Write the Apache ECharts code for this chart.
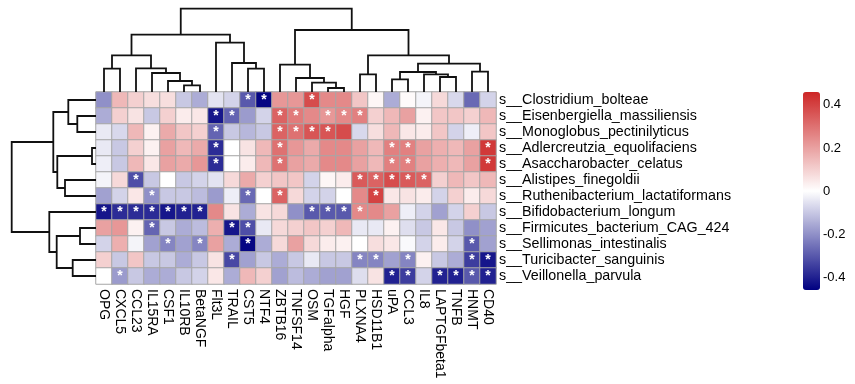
<!DOCTYPE html>
<html>
<head>
<meta charset="utf-8">
<script src="https://cdn.jsdelivr.net/npm/echarts@6/dist/echarts.min.js"></script>
<style>html,body{margin:0;padding:0;background:#fff}#c{width:855px;height:384px}</style>
</head>
<body>
<div id="c"></div>
<script>
// ---------- data ----------
var columns = ['OPG','CXCL5','CCL23','IL15RA','CSF1','IL10RB','BetaNGF','Flt3L','TRAIL','CST5','NTF4','ZBTB16','TNFSF14','OSM','TGFalpha','HGF','PLXNA4','HSD11B1','uPA','CCL3','IL8','LAPTGFbeta1','TNFB','HNMT','CD40'];
var rows = ['s__Clostridium_bolteae','s__Eisenbergiella_massiliensis','s__Monoglobus_pectinilyticus','s__Adlercreutzia_equolifaciens','s__Asaccharobacter_celatus','s__Alistipes_finegoldii','s__Ruthenibacterium_lactatiformans','s__Bifidobacterium_longum','s__Firmicutes_bacterium_CAG_424','s__Sellimonas_intestinalis','s__Turicibacter_sanguinis','s__Veillonella_parvula'];
var values = [
  [-0.2, 0.15, 0.1, 0.07, 0.07, -0.1, -0.15, -0.05, -0.08, -0.3, -0.45, 0.22, 0.22, 0.38, 0.25, 0.25, 0.12, 0.02, -0.15, 0.01, -0.02, 0.08, -0.07, -0.27, -0.08],
  [-0.15, 0.1, 0.06, -0.1, 0.1, 0.04, 0.05, -0.42, -0.28, -0.18, -0.08, 0.33, 0.28, 0.25, 0.22, 0.25, 0.27, 0.1, 0.15, 0.2, 0.03, 0.12, 0.12, 0.1, 0.15],
  [-0.04, -0.07, 0.15, 0.03, 0.18, 0.12, 0.1, -0.28, -0.1, -0.13, -0.1, 0.33, 0.3, 0.36, 0.36, 0.38, -0.07, 0.07, 0.15, 0.05, 0.04, 0.12, -0.08, -0.03, 0.12],
  [-0.04, -0.1, 0.1, 0.03, 0.2, 0.15, 0.18, -0.38, 0.0, 0.06, 0.15, 0.3, 0.22, 0.18, 0.25, 0.25, 0.2, 0.15, 0.27, 0.27, 0.2, 0.17, 0.15, 0.2, 0.42],
  [-0.03, -0.1, 0.15, 0.05, 0.2, 0.18, 0.22, -0.38, 0.0, 0.04, 0.15, 0.3, 0.2, 0.18, 0.25, 0.25, 0.2, 0.15, 0.27, 0.27, 0.2, 0.17, 0.15, 0.2, 0.42],
  [-0.02, 0.08, -0.32, -0.1, 0.0, -0.1, -0.08, -0.05, 0.08, 0.18, 0.1, 0.12, 0.12, -0.08, 0.02, 0.04, 0.35, 0.33, 0.38, 0.35, 0.33, 0.1, 0.15, 0.12, 0.15],
  [-0.17, -0.08, 0.05, -0.2, -0.1, -0.1, -0.12, -0.18, -0.03, -0.27, 0.0, 0.33, 0.08, -0.08, -0.08, 0.0, 0.25, 0.4, 0.05, 0.06, 0.04, -0.08, 0.1, 0.04, 0.08],
  [-0.42, -0.38, -0.38, -0.38, -0.42, -0.4, -0.4, 0.25, 0.06, -0.15, 0.06, 0.08, -0.2, -0.3, -0.3, -0.3, 0.25, 0.25, 0.2, -0.03, -0.08, -0.17, -0.08, 0.1, -0.1],
  [0.2, 0.22, 0.03, -0.28, -0.1, -0.15, -0.12, 0.17, -0.42, -0.32, -0.04, 0.08, 0.1, 0.12, 0.1, 0.15, -0.04, -0.04, 0.03, -0.06, -0.1, 0.05, -0.1, -0.2, -0.17],
  [-0.08, 0.17, -0.02, -0.17, -0.22, -0.17, -0.22, 0.2, -0.15, -0.45, -0.15, 0.08, 0.2, 0.08, 0.04, 0.03, 0.0, 0.07, 0.05, -0.01, -0.08, 0.04, -0.08, -0.3, -0.17],
  [0.1, -0.1, 0.12, -0.1, -0.1, -0.15, -0.1, 0.06, -0.33, -0.17, -0.1, -0.15, -0.1, -0.04, -0.1, -0.1, -0.22, -0.22, -0.17, -0.22, 0.03, -0.1, -0.15, -0.35, -0.42],
  [0.0, -0.18, -0.1, -0.15, -0.15, -0.1, -0.08, 0.05, -0.15, 0.15, 0.1, -0.17, -0.12, -0.15, -0.17, -0.17, -0.06, 0.06, -0.4, -0.35, -0.08, -0.4, -0.4, -0.3, -0.4]
];
// significant cells (column indices) per row
var stars = [
  [9,10,13],
  [7,8,11,12,14,15,16],
  [7,11,12,13,14],
  [7,11,18,19,24],
  [7,11,18,19,24],
  [2,16,17,18,19,20],
  [3,9,11,17],
  [0,1,2,3,4,5,6,13,14,15,16],
  [3,8,9],
  [4,6,9,23],
  [8,16,17,19,23,24],
  [1,18,19,21,22,23,24]
];
// column dendrogram: merges (negative = leaf index+1, positive = earlier merge number) and heights
var colMerge = [[-15,-16],[-6,-7],[-14,1],[-5,2],[-19,-20],[-13,3],[-22,-23],[-17,-18],[-21,7],[-4,4],[5,9],[-24,-25],[-1,-2],[-10,-11],[-3,10],[-12,6],[11,12],[-9,14],[13,15],[8,17],[-8,18],[19,21],[16,20],[22,23]];
var colHeight = [4,6.7,9.4,11,12.7,14,15,17.7,17.7,19,20,20.4,23.4,23.4,23.7,27.4,28.4,29,36.7,36.7,49.4,57.4,62,83.4];
// row dendrogram
var rowMerge = [[-4,-5],[-9,-10],[-2,-3],[-11,-12],[-1,3],[-6,-7],[1,6],[2,4],[5,7],[-8,8],[9,10]];
var rowHeight = [4,16,18.7,23.3,27.7,31,38.7,39.3,42.7,46.7,84.3];
var legendTicks = [-0.4,-0.2,0,0.2,0.4];
var colorMin = -0.46, colorMax = 0.46;

// ---------- build ----------
function dendroSegments(merge, height){
  var pos = [], segs = [];
  function p(i){ return i < 0 ? (-i - 1) : pos[i - 1]; }
  function h(i){ return i < 0 ? 0 : height[i - 1]; }
  merge.forEach(function(m, k){
    var a = m[0], b = m[1];
    segs.push([p(a), p(b), h(a), h(b), height[k]]);
    pos.push((p(a) + p(b)) / 2);
  });
  return segs;
}
var colSegs = dendroSegments(colMerge, colHeight);
var rowSegs = dendroSegments(rowMerge, rowHeight);

var heatData = [];
rows.forEach(function(r, ri){
  columns.forEach(function(c, ci){
    heatData.push([ci, ri, values[ri][ci], stars[ri].indexOf(ci) >= 0 ? 1 : 0]);
  });
});

var lineStyle = {stroke:'#111', lineWidth:1.8, fill:null};
var chart = echarts.init(document.getElementById('c'), null, {renderer:'canvas'});
var font = 'Liberation Sans, Arial, sans-serif';
chart.setOption({
  backgroundColor:'#fff',
  animation:false,
  textStyle:{fontFamily:font},
  grid:[
    {left:96, top:92, width:400, height:192},
    {left:96, top:8, width:400, height:84},
    {left:11, top:92, width:85, height:192},
    {left:803, top:92, width:17, height:198}
  ],
  xAxis:[
    {type:'category', gridIndex:0, data:columns, position:'bottom',
     axisLine:{show:false}, axisTick:{show:false}, splitLine:{show:false},
     axisLabel:{rotate:-90, interval:0, fontSize:14, color:'#000', margin:5, fontFamily:font}},
    {type:'value', gridIndex:1, min:-0.5, max:24.5, show:false},
    {type:'value', gridIndex:2, min:0, max:85, inverse:true, show:false},
    {type:'value', gridIndex:3, min:0, max:1, show:false}
  ],
  yAxis:[
    {type:'category', gridIndex:0, data:rows, inverse:true, position:'right',
     axisLine:{show:false}, axisTick:{show:false}, splitLine:{show:false},
     axisLabel:{interval:0, fontSize:14.3, color:'#000', margin:3, fontFamily:font}},
    {type:'value', gridIndex:1, min:0, max:84, show:false},
    {type:'value', gridIndex:2, min:-0.5, max:11.5, inverse:true, show:false},
    {type:'value', gridIndex:3, min:colorMin, max:colorMax, position:'right',
     axisLine:{show:false}, axisTick:{show:false}, splitLine:{show:false},
     axisLabel:{customValues:legendTicks, fontSize:13, color:'#000', margin:3,
       formatter:function(v){ return String(Math.round(v*10)/10); }}}
  ],
  visualMap:{
    type:'continuous', seriesIndex:0, dimension:2, min:colorMin, max:colorMax,
    inRange:{color:['#000080','#FFFFFF','#CD2626']},
    orient:'vertical', left:803, top:92, itemWidth:17, itemHeight:198, padding:0,
    calculable:false, text:null, showLabel:false, hoverLink:false
  },
  series:[
    {type:'heatmap', xAxisIndex:0, yAxisIndex:0, data:heatData,
     itemStyle:{borderColor:'#a6a6a6', borderWidth:1},
     label:{show:true, color:'#fff', fontSize:14, fontWeight:'bold',
       formatter:function(p){ return p.data[3] ? '*' : ''; }},
     emphasis:{disabled:true}},
    {type:'custom', xAxisIndex:1, yAxisIndex:1, data:colSegs, silent:true,
     encode:{x:[0,1], y:[2,3,4]},
     renderItem:function(params, api){
       var a = api.coord([api.value(0), api.value(2)]);
       var b = api.coord([api.value(0), api.value(4)]);
       var c = api.coord([api.value(1), api.value(4)]);
       var d = api.coord([api.value(1), api.value(3)]);
       return {type:'polyline', shape:{points:[a,b,c,d]}, style:lineStyle};
     }},
    {type:'custom', xAxisIndex:2, yAxisIndex:2, data:rowSegs, silent:true,
     encode:{y:[0,1], x:[2,3,4]},
     renderItem:function(params, api){
       var a = api.coord([api.value(2), api.value(0)]);
       var b = api.coord([api.value(4), api.value(0)]);
       var c = api.coord([api.value(4), api.value(1)]);
       var d = api.coord([api.value(3), api.value(1)]);
       return {type:'polyline', shape:{points:[a,b,c,d]}, style:lineStyle};
     }}
  ]
});
</script>
</body>
</html>
